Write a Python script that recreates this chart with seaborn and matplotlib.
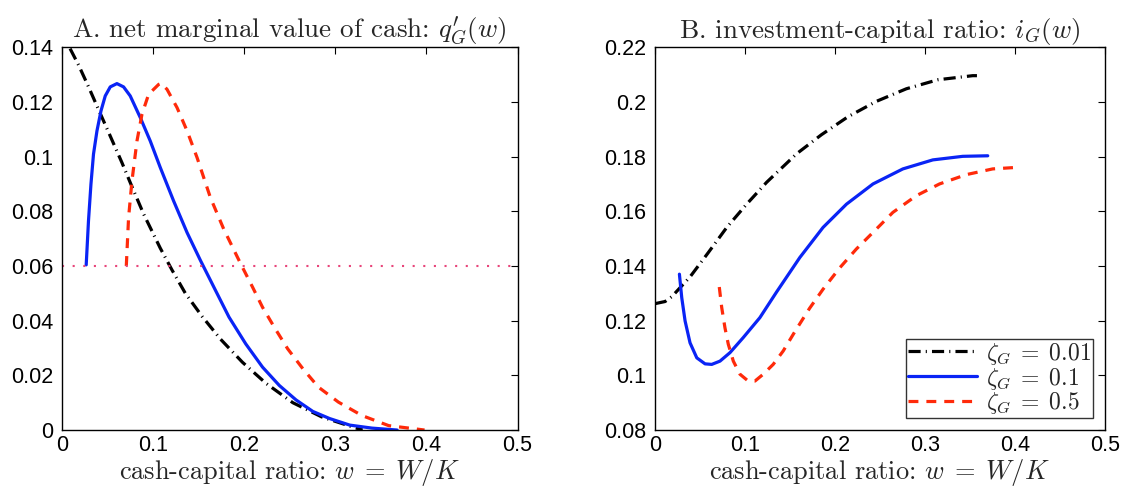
import numpy as np
import pandas as pd
import matplotlib
matplotlib.use("Agg")
import matplotlib.pyplot as plt
import seaborn as sns

# ---------------- data ----------------
# Panel A: net marginal value of cash q'_G(w)
a_black_w = [0.009, 0.0183, 0.0293, 0.0385, 0.0531, 0.0659, 0.0769, 0.0897, 0.108, 0.1209, 0.1355,
             0.154, 0.1742, 0.1981, 0.2239, 0.2534, 0.2851, 0.3182, 0.33]
a_black_q = [0.1395, 0.1335, 0.1255, 0.1185, 0.1075, 0.0978, 0.089, 0.079, 0.0665, 0.0585, 0.05,
             0.0415, 0.0332, 0.0248, 0.0171, 0.0100, 0.0048, 0.0012, 0.0]

a_blue_w = [0.0267, 0.0292, 0.0319, 0.0347, 0.0385, 0.0429, 0.0476, 0.0531, 0.0604, 0.0677, 0.075,
            0.086, 0.097, 0.108, 0.1226, 0.1374, 0.1521, 0.1687, 0.1834, 0.2018, 0.2202, 0.2386,
            0.257, 0.2754, 0.2938, 0.3159, 0.3403, 0.3679]
a_blue_q = [0.0604, 0.0765, 0.0899, 0.1009, 0.1094, 0.1167, 0.1222, 0.1255, 0.1267, 0.1255, 0.1222,
            0.1143, 0.1057, 0.096, 0.0838, 0.0722, 0.062, 0.051, 0.0413, 0.0315, 0.023, 0.0163,
            0.011, 0.0068, 0.0042, 0.0018, 0.0007, 0.0]

a_red_w = [0.0707, 0.0732, 0.0769, 0.0824, 0.0879, 0.0952, 0.1062, 0.109, 0.1154, 0.1264, 0.1374,
           0.1484, 0.163, 0.1776, 0.1962, 0.2092, 0.2202, 0.2331, 0.2478, 0.2645, 0.2815, 0.3035,
           0.3293, 0.3587, 0.3882, 0.398]
a_red_q = [0.06, 0.0777, 0.0911, 0.1057, 0.1155, 0.1228, 0.1264, 0.1268, 0.1246, 0.1179, 0.1094,
           0.0996, 0.085, 0.0735, 0.0608, 0.0523, 0.0449, 0.0376, 0.0297, 0.0224, 0.0157, 0.0102,
           0.0053, 0.0016, 0.0004, 0.0]

a_ref_w = [0.0, 0.5]
a_ref_q = [0.06, 0.06]

# Panel B: investment-capital ratio i_G(w)
b_black_w = [0.0, 0.0115, 0.019, 0.0392, 0.0595, 0.08, 0.1021, 0.1243, 0.1575, 0.1852, 0.2148,
             0.2462, 0.2795, 0.3145, 0.3533, 0.358]
b_black_i = [0.1262, 0.127, 0.1288, 0.136, 0.1449, 0.1541, 0.1626, 0.1706, 0.181, 0.188, 0.1946,
             0.2002, 0.2048, 0.2081, 0.2096, 0.2096]

b_blue_w = [0.0274, 0.030, 0.0337, 0.0392, 0.0467, 0.0559, 0.0633, 0.0725, 0.0836, 0.0983, 0.1168,
            0.1354, 0.1612, 0.187, 0.213, 0.2425, 0.2757, 0.309, 0.3422, 0.37]
b_blue_i = [0.137, 0.1284, 0.1199, 0.1119, 0.1064, 0.1042, 0.104, 0.1052, 0.1083, 0.1138, 0.1211,
            0.1305, 0.1431, 0.1541, 0.1626, 0.17, 0.1755, 0.1788, 0.1801, 0.1803]

b_red_w = [0.0717, 0.0744, 0.078, 0.0817, 0.0873, 0.0947, 0.1039, 0.1113, 0.1205, 0.1316, 0.1427,
           0.1557, 0.172, 0.187, 0.2055, 0.224, 0.2462, 0.2646, 0.2906, 0.3164, 0.346, 0.3755, 0.3996]
b_red_i = [0.1323, 0.1248, 0.1174, 0.1114, 0.1052, 0.1004, 0.0979, 0.0979, 0.1004, 0.104, 0.1089,
           0.116, 0.1245, 0.1315, 0.1393, 0.1462, 0.1535, 0.1596, 0.1657, 0.17, 0.1734, 0.1755, 0.176]

labels = [r"$\zeta_G\;=\;0.01$", r"$\zeta_G\;=\;0.1$", r"$\zeta_G\;=\;0.5$"]
xticks = [0, 0.1, 0.2, 0.3, 0.4, 0.5]
xticklabels = ["0", "0.1", "0.2", "0.3", "0.4", "0.5"]
a_yticks = [0, 0.02, 0.04, 0.06, 0.08, 0.10, 0.12, 0.14]
a_yticklabels = ["0", "0.02", "0.04", "0.06", "0.08", "0.1", "0.12", "0.14"]
b_yticks = [0.08, 0.10, 0.12, 0.14, 0.16, 0.18, 0.20, 0.22]
b_yticklabels = ["0.08", "0.1", "0.12", "0.14", "0.16", "0.18", "0.2", "0.22"]

# ---------------- style ----------------
sns.set_theme(style="white")
plt.rcParams["font.family"] = ["Liberation Sans", "DejaVu Sans"]
plt.rcParams["mathtext.fontset"] = "cm"

BLACK = "#000000"
BLUE = "#0a24f5"
RED = "#ff2a0a"
PINK = "#e8457a"
LW = 2.3
DASHDOT = (0, (3.8, 1.6, 0.35, 1.6))
DASHED = (0, (3.1, 2.5))

fig = plt.figure(figsize=(11.25, 4.87), dpi=100)
axA = fig.add_axes([0.055, 0.117, 0.405, 0.786])
axB = fig.add_axes([0.582, 0.117, 0.400, 0.786])


def draw(ax, w, v, color, ls, label=None):
    df = pd.DataFrame({"w": w, "v": v})
    sns.lineplot(data=df, x="w", y="v", ax=ax, color=color, linestyle=ls,
                 linewidth=LW, label=label, legend=False, sort=False)


draw(axA, a_black_w, a_black_q, BLACK, DASHDOT)
draw(axA, a_blue_w, a_blue_q, BLUE, "-")
draw(axA, a_red_w, a_red_q, RED, DASHED)
sns.lineplot(x=a_ref_w, y=a_ref_q, ax=axA, color=PINK, linestyle=(0, (1.0, 4.1)),
             linewidth=1.5, legend=False)

draw(axB, b_black_w, b_black_i, BLACK, DASHDOT, labels[0])
draw(axB, b_blue_w, b_blue_i, BLUE, "-", labels[1])
draw(axB, b_red_w, b_red_i, RED, DASHED, labels[2])

serif = "cmr10"
for ax, yt, ytl, ylim, title in [
        (axA, a_yticks, a_yticklabels, (0, 0.14),
         r"A. net marginal value of cash: $q^{\prime}_G(w)$"),
        (axB, b_yticks, b_yticklabels, (0.08, 0.22),
         r"B. investment-capital ratio: $i_G(w)$")]:
    ax.set_xlim(0, 0.5)
    ax.set_ylim(*ylim)
    ax.set_xticks(xticks)
    ax.set_xticklabels(xticklabels)
    ax.set_yticks(yt)
    ax.set_yticklabels(ytl)
    ax.tick_params(direction="in", length=5, width=0.8, top=True, right=True,
                   labelsize=15.5, pad=6, colors="black")
    ax.tick_params(axis="x", pad=3.5)
    for s in ax.spines.values():
        s.set_color("black")
        s.set_linewidth(1.0)
    ax.set_title(title, fontsize=19.5, fontname=serif, pad=7)
    ax.set_xlabel(r"cash-capital ratio: $w\;=\;W/K$", fontsize=19, fontname=serif, labelpad=0.5)
    ax.set_ylabel("")

leg = axB.legend(loc="lower right", fontsize=17, frameon=True, fancybox=False,
                 edgecolor="black", handlelength=2.9, borderaxespad=0.5,
                 labelspacing=-0.05, borderpad=0.08, handletextpad=0.4)
leg.get_frame().set_linewidth(1.0)

fig.savefig("out.png", dpi=100)
